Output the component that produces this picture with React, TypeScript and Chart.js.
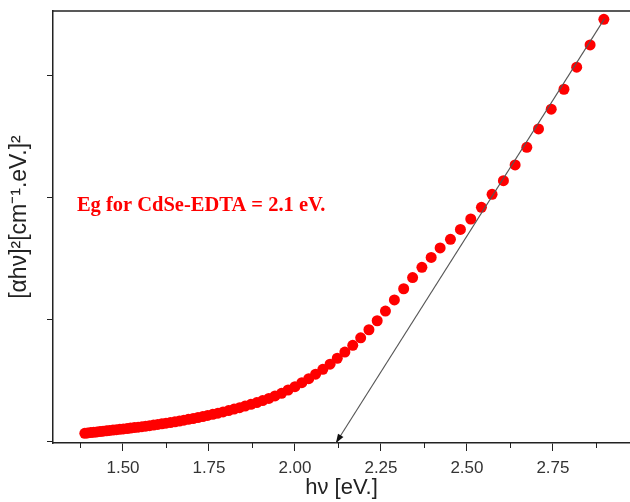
import React, { useEffect, useRef } from 'react';
import { Chart, registerables } from 'chart.js';

Chart.register(...registerables);

// Photon energy hν [eV] of each measured point
const photonEnergy = [
  1.389, 1.397, 1.406, 1.415, 1.424, 1.433, 1.442, 1.452, 1.461, 1.471,
  1.481, 1.491, 1.501, 1.512, 1.522, 1.533, 1.544, 1.555, 1.566, 1.577,
  1.589, 1.601, 1.613, 1.625, 1.638, 1.651, 1.664, 1.677, 1.690, 1.704,
  1.718, 1.732, 1.746, 1.761, 1.776, 1.791, 1.807, 1.823, 1.839, 1.855,
  1.872, 1.889, 1.906, 1.924, 1.942, 1.961, 1.980, 2.000, 2.020, 2.040,
  2.060, 2.081, 2.102, 2.123, 2.145, 2.168, 2.191, 2.215, 2.239, 2.263,
  2.289, 2.316, 2.342, 2.369, 2.396, 2.422, 2.452, 2.481, 2.511, 2.542,
  2.573, 2.606, 2.640, 2.674, 2.708, 2.745, 2.782, 2.819, 2.858, 2.898,
];

// (αhν)² in arbitrary units (axis ticks at 0,1,2,3 are unlabeled)
const alphaHvSquared = [
  0.063, 0.066, 0.069, 0.072, 0.075, 0.078, 0.081, 0.084, 0.087, 0.090,
  0.093, 0.096, 0.099, 0.102, 0.106, 0.110, 0.114, 0.118, 0.122, 0.126,
  0.131, 0.136, 0.141, 0.146, 0.152, 0.158, 0.164, 0.171, 0.178, 0.185,
  0.193, 0.201, 0.210, 0.219, 0.229, 0.239, 0.250, 0.262, 0.274, 0.287,
  0.301, 0.316, 0.332, 0.350, 0.370, 0.392, 0.419, 0.446, 0.479, 0.512,
  0.549, 0.589, 0.631, 0.680, 0.731, 0.786, 0.848, 0.914, 0.988, 1.068,
  1.159, 1.251, 1.343, 1.427, 1.508, 1.586, 1.657, 1.738, 1.824, 1.920,
  2.027, 2.139, 2.268, 2.413, 2.564, 2.726, 2.890, 3.071, 3.254, 3.465,
];

// Linear extrapolation of the absorption edge (arrow ends on the axis at Eg)
const fitLineEnergy = [2.119, 2.9];
const fitLineValue = [-0.0164, 3.47];

const xMinorTicks = [1.375, 1.625, 1.875, 2.125, 2.375, 2.625, 2.875];
const xRange = [1.2965, 2.974];
const yRange = [-0.0164, 3.533];

const annotationText = 'Eg for CdSe-EDTA = 2.1 eV.';
const annotationAnchor = [1.366, 1.93];
const xTitle = 'hν [eV.]';
const yTitle = '[αhν]²[cm⁻¹.eV.]²';
const yTitleCenterValue = 1.84;

const AXIS_COLOR = '#222222';
const SANS = '"Liberation Sans", Arial, sans-serif';

const extrasPlugin = {
  id: 'extras',
  afterDraw(chart: any) {
    const { ctx, chartArea, scales } = chart;
    const xs = scales.x;
    const ys = scales.y;
    ctx.save();
    // top frame line
    ctx.strokeStyle = AXIS_COLOR;
    ctx.lineWidth = 1.5;
    ctx.beginPath();
    ctx.moveTo(chartArea.left, chartArea.top);
    ctx.lineTo(chartArea.right, chartArea.top);
    ctx.stroke();
    // minor ticks on the x axis
    ctx.lineWidth = 1;
    for (const v of xMinorTicks) {
      const px = Math.round(xs.getPixelForValue(v)) + 0.5;
      ctx.beginPath();
      ctx.moveTo(px, chartArea.bottom);
      ctx.lineTo(px, chartArea.bottom + 5);
      ctx.stroke();
    }
    // arrow head at the bottom end of the fit line
    const x0 = xs.getPixelForValue(fitLineEnergy[0]);
    const y0 = ys.getPixelForValue(fitLineValue[0]);
    const x1 = xs.getPixelForValue(fitLineEnergy[1]);
    const y1 = ys.getPixelForValue(fitLineValue[1]);
    const ang = Math.atan2(y0 - y1, x0 - x1);
    const len = 9;
    const half = 3.2;
    ctx.fillStyle = '#111';
    ctx.beginPath();
    ctx.moveTo(x0, y0);
    ctx.lineTo(
      x0 - len * Math.cos(ang) + half * Math.sin(ang),
      y0 - len * Math.sin(ang) - half * Math.cos(ang)
    );
    ctx.lineTo(
      x0 - len * Math.cos(ang) - half * Math.sin(ang),
      y0 - len * Math.sin(ang) + half * Math.cos(ang)
    );
    ctx.closePath();
    ctx.fill();
    // y axis title (rotated)
    ctx.save();
    ctx.translate(20, ys.getPixelForValue(yTitleCenterValue));
    ctx.rotate(-Math.PI / 2);
    ctx.fillStyle = '#222222';
    ctx.font = '23px ' + SANS;
    ctx.textAlign = 'center';
    ctx.textBaseline = 'middle';
    ctx.fillText(yTitle, 0, 0);
    ctx.restore();
    // annotation
    ctx.fillStyle = '#ff0000';
    ctx.font = 'bold 20.5px "Liberation Serif", "Times New Roman", serif';
    ctx.textAlign = 'left';
    ctx.textBaseline = 'middle';
    ctx.fillText(
      annotationText,
      xs.getPixelForValue(annotationAnchor[0]),
      ys.getPixelForValue(annotationAnchor[1])
    );
    ctx.restore();
  },
};

export default function App() {
  const canvasRef = useRef<HTMLCanvasElement | null>(null);

  useEffect(() => {
    if (!canvasRef.current) return;
    const points = photonEnergy.map((e, i) => ({ x: e, y: alphaHvSquared[i] }));
    const fit = fitLineEnergy.map((e, i) => ({ x: e, y: fitLineValue[i] }));
    const chart = new Chart(canvasRef.current, {
      type: 'scatter',
      data: {
        datasets: [
          {
            type: 'line',
            label: 'fit',
            data: fit,
            borderColor: '#555555',
            borderWidth: 1.1,
            pointRadius: 0,
            fill: false,
          } as any,
          {
            label: 'data',
            data: points,
            backgroundColor: '#ff0000',
            borderColor: '#ff0000',
            borderWidth: 0,
            pointRadius: 5.5,
            pointHoverRadius: 5.5,
          },
        ],
      },
      options: {
        animation: false,
        responsive: true,
        maintainAspectRatio: false,
        devicePixelRatio: 1,
        layout: { autoPadding: false, padding: { top: 11, right: 0, left: 0, bottom: 0 } },
        plugins: {
          legend: { display: false },
          tooltip: { enabled: false },
        },
        scales: {
          x: {
            type: 'linear',
            min: xRange[0],
            max: xRange[1],
            afterFit: (s: any) => {
              s.height = 59;
              s.paddingLeft = 0;
              s.paddingRight = 0;
            },
            border: { color: AXIS_COLOR, width: 1.5 },
            grid: {
              drawOnChartArea: false,
              drawTicks: true,
              tickLength: 8,
              tickColor: AXIS_COLOR,
            },
            ticks: {
              stepSize: 0.25,
              includeBounds: false,
              autoSkip: false,
              maxRotation: 0,
              padding: 7,
              color: '#333333',
              font: { family: SANS, size: 17 },
              callback: (v: any) => Number(v).toFixed(2),
            },
            title: {
              display: true,
              text: xTitle,
              color: '#222222',
              font: { family: SANS, size: 22 },
              padding: { top: 0, bottom: 1 },
            },
          },
          y: {
            type: 'linear',
            min: yRange[0],
            max: yRange[1],
            afterFit: (s: any) => {
              s.width = 53;
              s.paddingTop = 0;
              s.paddingBottom = 0;
            },
            border: { color: AXIS_COLOR, width: 1.5 },
            grid: {
              drawOnChartArea: false,
              drawTicks: true,
              tickLength: 6,
              tickColor: AXIS_COLOR,
            },
            ticks: {
              stepSize: 1,
              includeBounds: false,
              display: false,
            },
            title: { display: false },
          },
        },
      },
      plugins: [extrasPlugin],
    });
    return () => chart.destroy();
  }, []);

  return (
    <div style={{ position: 'absolute', left: 0, top: 0, width: 630, height: 502, background: '#fff' }}>
      <canvas ref={canvasRef} />
    </div>
  );
}
